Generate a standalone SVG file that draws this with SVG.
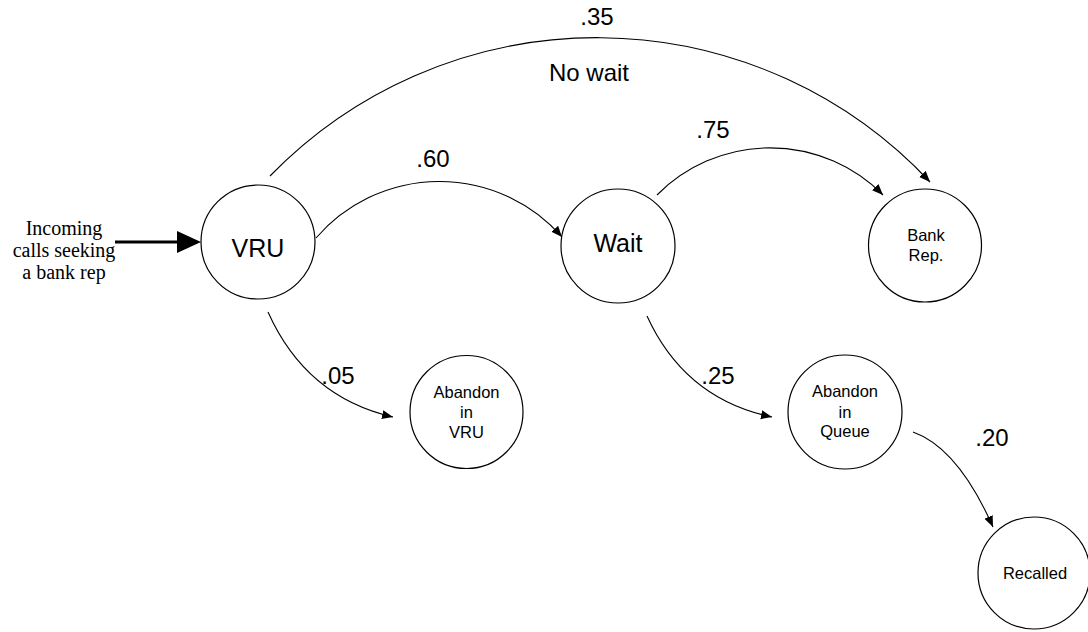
<svg xmlns="http://www.w3.org/2000/svg" width="1088" height="632" viewBox="0 0 1088 632">
<style>
.node{fill:#fff;stroke:#000;stroke-width:1.2}
.edge{fill:none;stroke:#000;stroke-width:1.1}
.big{font-family:"Liberation Sans",Arial,sans-serif;font-size:25px;text-anchor:middle;fill:#000}
.small{font-family:"Liberation Sans",Arial,sans-serif;font-size:16.5px;text-anchor:middle;fill:#000}
.lbl{font-family:"Liberation Sans",Arial,sans-serif;font-size:24px;text-anchor:middle;fill:#000}
.src{font-family:"Liberation Serif","Times New Roman",serif;font-size:20px;text-anchor:middle;fill:#000}
</style>
<defs>
<marker id="arr" markerUnits="userSpaceOnUse" markerWidth="12" markerHeight="10" refX="11" refY="4.5" orient="auto">
<path d="M0,0 L11,4.5 L0,9 z" fill="#000"/>
</marker>
</defs>
<g id="connectors">
<path class="edge" d="M270,176 A456,456 0 0,1 930,182" marker-end="url(#arr)"/>
<path class="edge" d="M316,238 A163,163 0 0,1 562,237" marker-end="url(#arr)"/>
<path class="edge" d="M657,195 A159,159 0 0,1 883,195" marker-end="url(#arr)"/>
<path class="edge" d="M268,312 Q306,397 393,417" marker-end="url(#arr)"/>
<path class="edge" d="M647,316 Q685,399 772,417" marker-end="url(#arr)"/>
<path class="edge" d="M913,432 Q958,448 993,527" marker-end="url(#arr)"/>
<line x1="115" y1="242" x2="180" y2="242" stroke="#000" stroke-width="3.2"/>
<polygon points="177,231 201,242 177,253" fill="#000"/>
</g>
<g id="labels">
<text class="lbl" x="597" y="25">.35</text>
<text class="lbl" x="589" y="81">No wait</text>
<text class="lbl" x="433" y="167">.60</text>
<text class="lbl" x="713" y="138">.75</text>
<text class="lbl" x="338" y="384">.05</text>
<text class="lbl" x="718" y="384">.25</text>
<text class="lbl" x="992" y="446">.20</text>
</g>
<g id="source">
<text class="src" x="64" y="235">Incoming</text>
<text class="src" x="64" y="257">calls seeking</text>
<text class="src" x="64" y="279">a bank rep</text>
</g>
<g id="vru">
<circle class="node" cx="258" cy="242" r="57"/>
<text class="big" x="258" y="257">VRU</text>
</g>
<g id="wait">
<circle class="node" cx="618" cy="246" r="57"/>
<text class="big" x="618" y="252">Wait</text>
</g>
<g id="bankrep">
<circle class="node" cx="925" cy="245.5" r="56.5"/>
<text class="small" x="926" y="241">Bank</text>
<text class="small" x="926" y="261">Rep.</text>
</g>
<g id="abandon-vru">
<circle class="node" cx="466.5" cy="412" r="56.5"/>
<text class="small" x="466.5" y="398">Abandon</text>
<text class="small" x="466.5" y="418">in</text>
<text class="small" x="466.5" y="438">VRU</text>
</g>
<g id="abandon-queue">
<circle class="node" cx="845" cy="412" r="57"/>
<text class="small" x="845" y="397">Abandon</text>
<text class="small" x="845" y="418">in</text>
<text class="small" x="845" y="437">Queue</text>
</g>
<g id="recalled">
<circle class="node" cx="1034" cy="573" r="56"/>
<text class="small" x="1035" y="579">Recalled</text>
</g>
</svg>
